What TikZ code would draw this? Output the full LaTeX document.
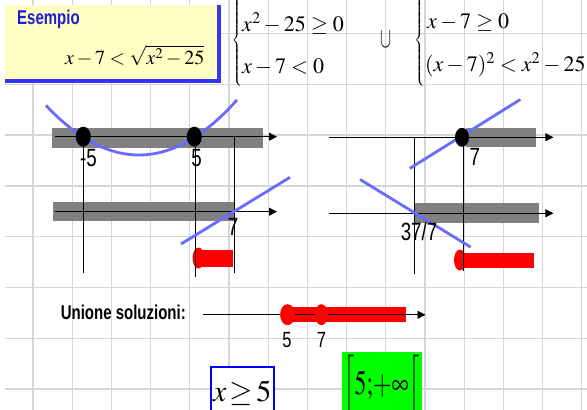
\documentclass[tikz,border=0pt]{standalone}
\usepackage{mathptmx}
\usepackage{amsmath}
\usepackage{fontspec}
\setmainfont{Liberation Serif}
\newfontfamily\narrowfont[FakeStretch=0.75]{Liberation Sans}
\usetikzlibrary{arrows.meta,shapes.geometric}
\definecolor{gridc}{HTML}{D6D6D6}
\definecolor{yellc}{HTML}{FFFFC4}
\definecolor{bordc}{HTML}{3434F4}
\definecolor{esc}{HTML}{1E1ED2}
\definecolor{curvec}{HTML}{6A6AFF}
\definecolor{bandc}{HTML}{808080}
\definecolor{redc}{HTML}{FF0000}
\definecolor{greenc}{HTML}{00FF00}
\begin{document}
\begin{tikzpicture}[x=1pt,y=-1pt,
  gridline/.style={draw=gridc,line width=1.3pt},
  greyband/.style={fill=bandc},
  redband/.style={fill=redc},
  axisline/.style={draw=black,line width=0.9pt,-{Triangle[length=8pt,width=8pt]}},
  vline/.style={draw=black,line width=0.9pt},
  curveline/.style={draw=curvec,line width=2.8pt},
  blackdot/.style={ellipse,fill=black,inner sep=0pt,minimum width=15pt,minimum height=20pt},
  reddot/.style={ellipse,fill=redc,inner sep=0pt,minimum width=14pt,minimum height=21pt},
  numlab/.style={inner sep=0pt,font=\narrowfont\fontsize{25}{28}\selectfont},
  smalllab/.style={inner sep=0pt,font=\narrowfont\fontsize{22}{24}\selectfont},
  mathline/.style={inner sep=0pt,anchor=base west,font=\fontsize{22}{26}\selectfont},
  bracenode/.style={inner sep=0pt,font=\fontsize{12}{14}\selectfont},
]
\useasboundingbox (0,0) rectangle (587,410);
\fill[white] (0,0) rectangle (587,410);
% grid
\foreach \k in {0,...,14} \draw[gridline] ({33+39.2*\k},0) -- ({33+39.2*\k},410);
\foreach \k in {0,...,7} \draw[gridline] (5,{33.5+50.8*\k}) -- (587,{33.5+50.8*\k});

% yellow title box
\fill[yellc] (5,5) rectangle (217,78.5);
\draw[bordc,line width=4pt] (219,5) -- (219,80.5) -- (5,80.5);
\node[anchor=base west,inner sep=0pt,text=esc,font=\narrowfont\bfseries\fontsize{20}{24}\selectfont] (esempio) at (17,24) {Esempio};
\node[anchor=base west,inner sep=0pt,font=\fontsize{20}{24}\selectfont] (ineq) at (65,64) {$x-7<\sqrt{x^2-25}$};

% systems
\node[bracenode] (braceL) at (237.5,40) {$\left\{\vrule height 40pt depth 44pt width 0pt\right.$};
\node[mathline] (s1a) at (242,31.7) {$x^2-25\geq 0$};
\node[mathline] (s1b) at (242,73.3) {$x-7<0$};
\node[inner sep=0pt,font=\fontsize{22}{26}\selectfont] (cup) at (386,40) {\scalebox{0.75}[1.3]{$\cup$}};
\node[bracenode] (braceR) at (420,40) {$\left\{\vrule height 40pt depth 44pt width 0pt\right.$};
\node[mathline] (s2a) at (427,28.3) {$x-7\geq 0$};
\node[mathline] (s2b) at (425,71.7) {$(x-7)^2<x^2-25$};

% ---------- left diagram ----------
\fill[greyband] (52,128.3) rectangle (263,148.3);
\fill[greyband] (53.3,201.7) rectangle (235,220.7);
\fill[redband] (199,249.5) rectangle (233.3,266.5);
\node[reddot,minimum width=12pt] (rl) at (198.5,258) {};
\draw[vline] (83.3,137) -- (83.3,273);
\draw[vline] (195,137) -- (195,276.7);
\draw[vline] (234.5,137) -- (234.5,273);
\coordinate (a1s) at (55,136.7); \coordinate (a1e) at (277,136.7);
\coordinate (a2s) at (55,211.7); \coordinate (a2e) at (277,211.7);
\draw[axisline] (a1s) -- (a1e);
\draw[axisline] (a2s) -- (a2e);
\draw[curveline] plot[domain=46:237,samples=60] (\x,{155-0.00574*(\x-139)*(\x-139)});
\coordinate (l1s) at (181,244); \coordinate (l1e) at (290,177.3);
\draw[curveline] (l1s) -- (l1e);
\node[blackdot] (dm5) at (83.3,136.7) {};
\node[blackdot] (d5) at (194.3,136.7) {};
\node[numlab] (tm5) at (88.5,158.5) {-5};
\node[numlab] (t5) at (196.7,158.5) {5};
\node[numlab] (t7a) at (233,226.7) {7};

% ---------- right diagram ----------
\fill[greyband] (465.5,127.8) rectangle (535.5,146.8);
\fill[greyband] (414.9,203.2) rectangle (538.8,222.8);
\fill[redband] (460,252.5) rectangle (534.1,268.4);
\node[reddot,minimum width=12pt] (rr) at (460,260) {};
\draw[vline] (414.9,137.3) -- (414.9,274);
\draw[vline] (463.9,137.3) -- (463.9,270.7);
\coordinate (a3s) at (328.7,137.3); \coordinate (a3e) at (553.4,137.3);
\coordinate (a4s) at (328.7,213.3); \coordinate (a4e) at (553.4,213.3);
\draw[axisline] (a3s) -- (a3e);
\draw[axisline] (a4s) -- (a4e);
\coordinate (l2s) at (409.8,168.4); \coordinate (l2e) at (520.3,99.5);
\coordinate (l3s) at (360.1,179.5); \coordinate (l3e) at (470.6,247.1);
\draw[curveline] (l2s) -- (l2e);
\draw[curveline] (l3s) -- (l3e);
\node[blackdot,minimum width=14pt,minimum height=19pt] (d7) at (462,137.3) {};
\node[numlab] (t7b) at (474.8,156.5) {7};
\node[numlab] (t377) at (419,232) {37/7};

% ---------- union ----------
\node[inner sep=0pt,font=\narrowfont\bfseries\fontsize{20}{22}\selectfont] (union) at (123.3,312) {Unione soluzioni:};
\fill[redband] (287,307) rectangle (406,322.3);
\coordinate (a5s) at (203.3,314.8); \coordinate (a5e) at (425.5,314.8);
\draw[axisline] (a5s) -- (a5e);
\node[reddot,minimum width=15pt] (u5) at (287.6,314.7) {};
\node[reddot,minimum width=13pt] (u7) at (321.4,314.7) {};
\node[smalllab] (tu5) at (287,340) {5};
\node[smalllab] (tu7) at (321.5,340) {7};

% ---------- results ----------
\draw[blue,line width=2pt,fill=white] (210.7,367.3) rectangle (274,416);
\node[anchor=base,inner sep=0pt,font=\fontsize{30}{34}\selectfont] (res1) at (242.3,401.7) {$x\!\geq\!5$};
\fill[greenc] (341.7,352.3) rectangle (421.5,409.5);
\node[anchor=base,inner sep=0pt,font=\fontsize{28}{32}\selectfont] (res2) at (381.6,394) {\scalebox{0.85}[1.22]{$\left[\vrule height 26pt depth 0pt width 0pt 5{;}{+}\infty\right[$}};
\end{tikzpicture}
\end{document}
